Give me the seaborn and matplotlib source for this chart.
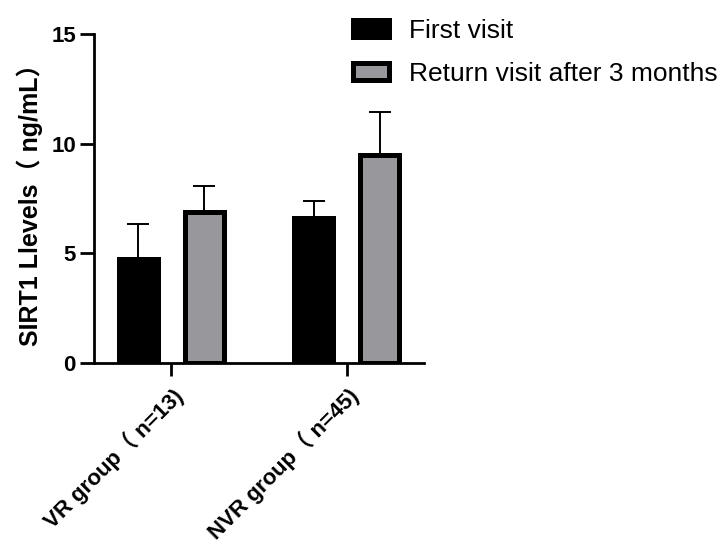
import matplotlib
matplotlib.use("Agg")
import matplotlib.pyplot as plt
import matplotlib.transforms as mtransforms
import seaborn as sns
import pandas as pd

# Group means and SDs of serum SIRT1 (ng/mL)
groups = ["VR group（ n=13)", "NVR group（ n=45)"]
visits = ["First visit", "Return visit after 3 months"]
first_mean = [4.75, 6.6]
first_sd = [1.6, 0.8]
return_mean = [6.9, 9.5]
return_sd = [1.15, 1.95]
yticks = [0, 5, 10, 15]

sns.set_theme(style="white")
fam = ["Liberation Sans", "Noto Sans CJK SC", "DejaVu Sans"]
plt.rcParams["font.family"] = fam
for key in ["text.color", "axes.labelcolor", "xtick.color", "ytick.color", "axes.edgecolor"]:
    plt.rcParams[key] = "black"

df = pd.DataFrame({
    "group": groups * 2,
    "visit": [visits[0]] * 2 + [visits[1]] * 2,
    "mean": first_mean + return_mean,
    "sd": first_sd + return_sd,
})

fig = plt.figure(figsize=(7.2, 5.45), dpi=100)
ax = fig.add_axes([94 / 720, 1 - 363 / 545, 330 / 720, 329 / 545])

sns.barplot(
    data=df, x="group", y="mean", hue="visit", order=groups, hue_order=visits,
    palette=["#000000", "#98989c"], width=0.754, gap=0.41,
    edgecolor="black", linewidth=3.6, errorbar=None, ax=ax, zorder=3,
    saturation=1,
)

# upper-only error bars from the bar tops
for cont, hue in zip(ax.containers, visits):
    sub = df[df["visit"] == hue].set_index("group").loc[groups]
    xs = [p.get_x() + p.get_width() / 2 for p in cont.patches]
    ax.errorbar(xs, sub["mean"], yerr=[[0] * len(xs), sub["sd"]], fmt="none",
                ecolor="black", elinewidth=1.4, capsize=8, capthick=1.4, zorder=2)

ax.set_ylim(0, 15)
ax.set_xlim(-0.44, 1.44)
ax.set_yticks(yticks)
ax.set_yticklabels([str(t) for t in yticks], fontsize=16, fontweight="bold")
ax.set_xticks([0, 1])
ax.set_xticklabels(groups, fontsize=16, fontweight="bold", rotation=45,
                   ha="right", va="top", rotation_mode="anchor")
shift = mtransforms.ScaledTranslation(-5 / 100, 0, fig.dpi_scale_trans)
for lab in ax.get_xticklabels():
    lab.set_transform(lab.get_transform() + shift)
ax.set_xlabel("")
ax.set_ylabel("SIRT1 Llevels（ ng/mL）", fontsize=18, fontweight="bold", labelpad=6)

for s in ["top", "right"]:
    ax.spines[s].set_visible(False)
for s in ["left", "bottom"]:
    ax.spines[s].set_linewidth(2.0)
    ax.spines[s].set_color("black")
ax.tick_params(axis="y", which="major", direction="out", length=10, width=2.0,
               color="black", left=True, pad=3)
ax.tick_params(axis="x", which="major", direction="out", length=9, width=2.0,
               color="black", bottom=True, pad=6)

ax.legend_.remove()
handles, labels = ax.get_legend_handles_labels()
fig.legend(handles, labels, loc="upper left", bbox_to_anchor=(353 / 720, 1 - 19 / 545),
           bbox_transform=fig.transFigure, frameon=False, fontsize=19,
           handlelength=1.36, handleheight=0.64, handletextpad=0.76,
           labelspacing=0.72, borderpad=0, borderaxespad=0)

fig.savefig("out.png", dpi=100)
